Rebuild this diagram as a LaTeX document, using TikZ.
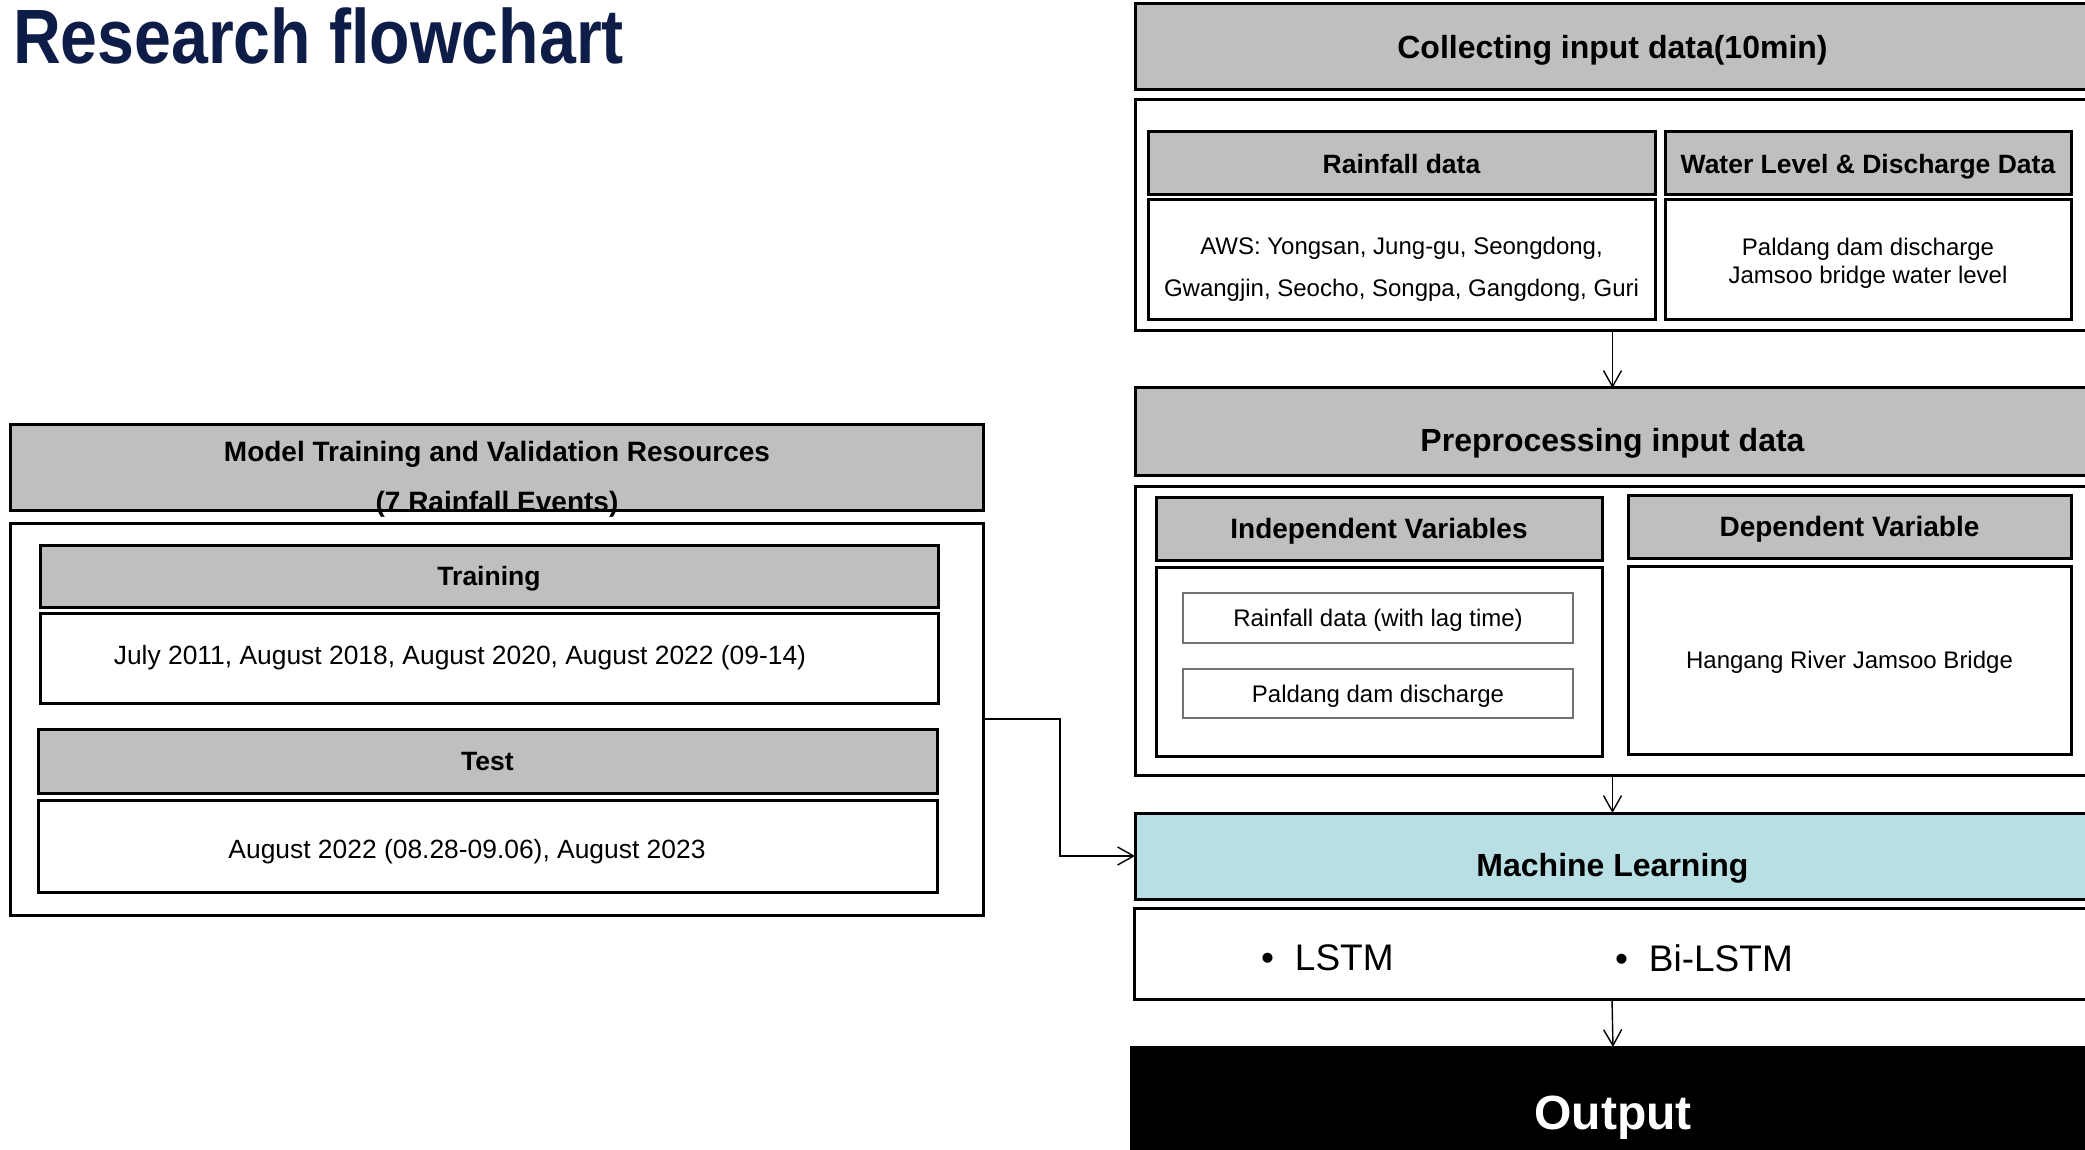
\documentclass[tikz,border=0pt]{standalone}
\usepackage{fontspec}
\setmainfont{Liberation Sans}
\usetikzlibrary{arrows.meta}
\definecolor{hdrgray}{RGB}{191,191,191}
\definecolor{mlteal}{RGB}{184,223,227}
\definecolor{titlenavy}{RGB}{14,28,72}

\begin{document}
\begin{tikzpicture}[x=0.5pt,y=-0.5pt,
  every node/.style={inner sep=0pt,outer sep=0pt},
  sz/.style 2 args={minimum width=#1*0.5pt,minimum height=#2*0.5pt},
  oneline/.style={text depth=0pt},
  box/.style={draw=black,line width=1.5pt,rectangle,fill=white},
  hdr/.style={box,oneline,fill=hdrgray,font=\bfseries\fontsize{13.25}{16}\selectfont},
  hdrb/.style={box,oneline,fill=hdrgray,font=\bfseries\fontsize{14}{17}\selectfont},
  varbox/.style={draw=black!55,line width=0.75pt,rectangle,oneline,font=\fontsize{12}{14}\selectfont},
  body/.style={font=\fontsize{12}{14}\selectfont},
  bodyl/.style={oneline,font=\fontsize{13.2}{16}\selectfont},
  big/.style={oneline,font=\bfseries\fontsize{16}{19}\selectfont},
  conn/.style={draw=black,line width=0.7pt,-{Straight Barb[length=8pt,width=9pt,line width=0.7pt]}}
]
\path[use as bounding box] (0,0) rectangle (2085,1150);
\clip (0,0) rectangle (2085,1150);

% title
\node[anchor=base west,text=titlenavy,font=\bfseries\fontsize{38.5}{40}\selectfont] (title) at (13,64) {\scalebox{0.86}[1]{Research flowchart}};

% collecting input data
\node[box,fill=hdrgray,sz={955}{86},big] (collect) at (1612.5,47) {Collecting input data(10min)};
\node[box,sz={955}{231}] (collectOuter) at (1612.5,215.5) {};
\node[hdr,sz={507}{63}] (rainHead) at (1401.5,163.5) {Rainfall data};
\node[hdr,sz={406}{63}] (waterHead) at (1868,163.5) {Water Level \& Discharge Data};
\node[box,sz={507}{120}] (rainBody) at (1401.5,260) {};
\node[align=center,font=\fontsize{12}{21}\selectfont] (awsText) at (1401.5,269) {AWS: Yongsan, Jung-gu, Seongdong,\\Gwangjin, Seocho, Songpa, Gangdong, Guri};
\node[box,sz={406}{120}] (waterBody) at (1868,260) {};
\node[align=center,body] (waterText) at (1868,263.5) {Paldang dam discharge\\Jamsoo bridge water level};

% preprocessing
\node[box,fill=hdrgray,sz={955}{88}] (prep) at (1612.5,432) {};
\node[big] (prepText) at (1612.5,440) {Preprocessing input data};
\node[box,sz={955}{289}] (prepOuter) at (1612.5,630.5) {};
\node[hdrb,sz={446}{63}] (indHead) at (1379,528.5) {Independent Variables};
\node[hdrb,sz={443}{63}] (depHead) at (1849.5,526.5) {Dependent Variable};
\node[box,sz={446}{189}] (indBody) at (1379,661.5) {};
\node[box,oneline,sz={443}{188},body] (depBody) at (1849.5,660) {Hangang River Jamsoo Bridge};
\node[varbox,sz={390}{50}] (var1) at (1378,618) {Rainfall data (with lag time)};
\node[varbox,sz={390}{49}] (var2) at (1378,693.5) {Paldang dam discharge};

% machine learning
\node[box,fill=mlteal,sz={955}{86}] (ml) at (1612.5,856) {};
\node[big] (mlText) at (1612.5,865) {Machine Learning};
\node[box,sz={956}{91}] (models) at (1612,953.5) {};
\node[anchor=west,font=\fontsize{18.5}{22}\selectfont] (lstm) at (1261,958) {•\hspace{10.5pt}LSTM};
\node[anchor=west,font=\fontsize{18.5}{22}\selectfont] (bilstm) at (1615,958) {•\hspace{10.5pt}Bi-LSTM};

% output
\node[box,oneline,fill=black,sz={964}{132},text=white,font=\bfseries\fontsize{24}{28}\selectfont] (output) at (1613,1113) {Output};

% training and validation resources
\node[box,fill=hdrgray,sz={973}{85}] (resHead) at (496.5,467.5) {};
\node[box,sz={973}{392}] (resOuter) at (496.5,719) {};
\node[align=center,font=\bfseries\fontsize{14}{25}\selectfont] (resTitle) at (497,479) {Model Training and Validation Resources\\(7 Rainfall Events)};
\node[hdr,sz={898}{62}] (trainHead) at (489,576) {Training};
\node[box,sz={898}{90}] (trainBody) at (489,658) {};
\node[bodyl] (trainText) at (460,655) {July 2011, August 2018, August 2020, August 2022 (09-14)};
\node[hdr,sz={899}{64}] (testHead) at (487.5,761) {Test};
\node[box,sz={899}{92}] (testBody) at (487.5,846) {};
\node[bodyl] (testText) at (467,849) {August 2022 (08.28-09.06), August 2023};

% connectors
\draw[conn] (collectOuter.south) -- (prep.north);
\draw[conn] (prepOuter.south) -- (ml.north);
\draw[conn] (models.south) -- (output.north);
\draw[conn] (resOuter.east) -- ++(77,0) |- (ml.west);
\end{tikzpicture}
\end{document}
